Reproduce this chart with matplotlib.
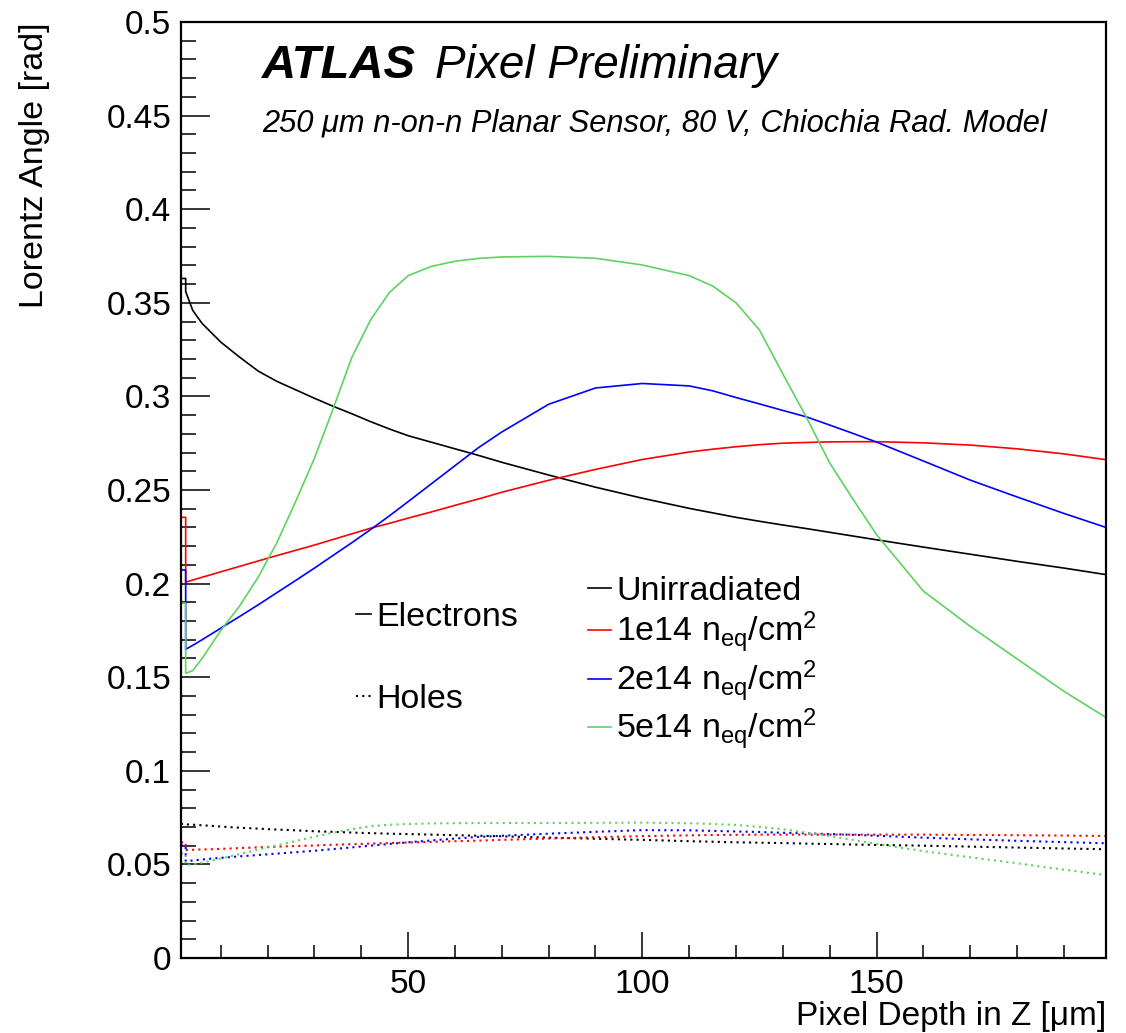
import numpy as np
import matplotlib.pyplot as plt
from matplotlib.lines import Line2D
from matplotlib.ticker import MultipleLocator, FuncFormatter

plt.rcParams['font.family'] = ['Liberation Sans', 'DejaVu Sans']
plt.rcParams['mathtext.fontset'] = 'custom'
plt.rcParams['mathtext.rm'] = 'Liberation Sans'
plt.rcParams['mathtext.it'] = 'Liberation Sans:italic'
plt.rcParams['mathtext.bf'] = 'Liberation Sans:bold'

# depth grid (um)
depth = [2.5, 4, 6, 8, 10, 14, 18, 22, 26, 30, 34, 38, 42, 46, 50, 55, 60, 65, 70,
         80, 90, 100, 110, 115, 120, 125, 130, 135, 140, 145, 150, 160, 170, 180, 190, 199]

# first bin (1.5 - 2.5 um) of each histogram
first_e = [0.363, 0.2354, 0.2073, 0.1895]
first_h = [0.0716, 0.0618, 0.0601, 0.0559]

# electrons
e_unirr = [0.356, 0.346, 0.339, 0.334, 0.329, 0.321, 0.3135, 0.308, 0.3035, 0.299, 0.2947,
           0.2907, 0.2865, 0.2826, 0.279, 0.2755, 0.272, 0.2685, 0.2648, 0.258, 0.2515,
           0.2456, 0.2402, 0.2378, 0.2354, 0.2333, 0.2313, 0.2294, 0.2274, 0.2254, 0.2234,
           0.2195, 0.2157, 0.2119, 0.2083, 0.2048]
e_1e14 = [0.2008, 0.2019, 0.2034, 0.2048, 0.2063, 0.2092, 0.2121, 0.215, 0.2178, 0.2206,
          0.2236, 0.2266, 0.2296, 0.2322, 0.235, 0.2383, 0.2418, 0.2452, 0.2488, 0.2552,
          0.261, 0.2663, 0.2703, 0.2718, 0.2731, 0.2742, 0.275, 0.2754, 0.2757, 0.2758,
          0.2758, 0.2752, 0.274, 0.272, 0.2693, 0.2662]
e_2e14 = [0.1649, 0.167, 0.17, 0.1731, 0.1762, 0.1824, 0.1887, 0.1952, 0.2017, 0.2083,
          0.2151, 0.2219, 0.2289, 0.2362, 0.2438, 0.2534, 0.263, 0.2726, 0.281, 0.2958,
          0.3045, 0.3069, 0.3056, 0.303, 0.2994, 0.296, 0.2925, 0.2891, 0.2847, 0.2802,
          0.2756, 0.2655, 0.2553, 0.2463, 0.2375, 0.23]
e_5e14 = [0.1521, 0.1535, 0.16, 0.1675, 0.175, 0.188, 0.2035, 0.222, 0.244, 0.267, 0.2935,
          0.321, 0.341, 0.3555, 0.3645, 0.3695, 0.3722, 0.3737, 0.3745, 0.3748, 0.3738,
          0.3702, 0.3645, 0.359, 0.35, 0.3355, 0.312, 0.289, 0.2645, 0.245, 0.2262, 0.196,
          0.1772, 0.1598, 0.1425, 0.1285]

# holes
h_unirr = [0.0714, 0.0712, 0.0709, 0.0706, 0.0702, 0.0696, 0.0691, 0.0686, 0.0682, 0.0677,
           0.0674, 0.067, 0.0667, 0.0664, 0.0662, 0.0659, 0.0656, 0.0653, 0.065, 0.0643,
           0.0637, 0.0631, 0.0624, 0.0621, 0.0618, 0.0616, 0.0614, 0.0611, 0.0609, 0.0606,
           0.0604, 0.06, 0.0595, 0.059, 0.0585, 0.0581]
h_1e14 = [0.0577, 0.0578, 0.058, 0.0581, 0.0583, 0.0587, 0.0591, 0.0595, 0.0598, 0.0601,
          0.0605, 0.0608, 0.0611, 0.0614, 0.0617, 0.062, 0.0624, 0.0627, 0.0631, 0.0638,
          0.0645, 0.0651, 0.0655, 0.0657, 0.0658, 0.0659, 0.0659, 0.0659, 0.0659, 0.0659,
          0.0659, 0.0659, 0.0657, 0.0656, 0.0654, 0.0652]
h_2e14 = [0.0518, 0.0521, 0.0526, 0.0531, 0.0535, 0.0543, 0.055, 0.0558, 0.0565, 0.0573,
          0.0582, 0.0591, 0.06, 0.0609, 0.0618, 0.0628, 0.0638, 0.0647, 0.0653, 0.0664,
          0.0674, 0.0683, 0.0682, 0.0679, 0.0676, 0.0673, 0.0669, 0.0666, 0.0662, 0.0658,
          0.0653, 0.0643, 0.0634, 0.0626, 0.0619, 0.0613]
h_5e14 = [0.0497, 0.05, 0.0509, 0.052, 0.0531, 0.0555, 0.0579, 0.0602, 0.0625, 0.0648,
          0.067, 0.0688, 0.0704, 0.0712, 0.0716, 0.0719, 0.072, 0.0721, 0.0721, 0.0721,
          0.0722, 0.0723, 0.072, 0.0716, 0.0711, 0.07, 0.0688, 0.067, 0.0651, 0.0631,
          0.0609, 0.0571, 0.0538, 0.0506, 0.0472, 0.0443]

labels = ['Unirradiated', r'1e14 n$_{\rm eq}$/cm$^{2}$',
          r'2e14 n$_{\rm eq}$/cm$^{2}$', r'5e14 n$_{\rm eq}$/cm$^{2}$']
colors = ['black', '#ff0000', '#0000ff', '#5ed35e']

fig = plt.figure(figsize=(11.26, 10.33), dpi=100)
ax = fig.add_axes([181/1126, 75/1033, 925/1126, 936/1033])

first_edge = [1.5, 2.5]
electrons = [e_unirr, e_1e14, e_2e14, e_5e14]
holes = [h_unirr, h_1e14, h_2e14, h_5e14]
for i in range(4):
    ax.plot(first_edge + depth, [first_e[i]] * 2 + electrons[i], color=colors[i], lw=1.2)
    ax.plot(first_edge + depth, [first_h[i]] * 2 + holes[i], color=colors[i], lw=1.5,
            linestyle=(0, (1, 2.0)))

ax.set_xlim(1.5, 199)
ax.set_ylim(0, 0.5)

ax.xaxis.set_major_locator(MultipleLocator(50))
ax.xaxis.set_minor_locator(MultipleLocator(10))
ax.yaxis.set_major_locator(MultipleLocator(0.05))
ax.yaxis.set_minor_locator(MultipleLocator(0.01))
ax.yaxis.set_major_formatter(FuncFormatter(lambda v, p: '%g' % round(v, 3)))

ax.tick_params(axis='both', which='both', direction='in', top=False, right=False,
               labelsize=24, width=1.1)
ax.tick_params(axis='y', which='major', length=21, pad=7)
ax.tick_params(axis='y', which='minor', length=10.5)
ax.tick_params(axis='x', which='major', length=19, pad=8)
ax.tick_params(axis='x', which='minor', length=9.5)
for s in ax.spines.values():
    s.set_linewidth(1.6)

fig.text(35/1126, 1 - 22/1033, 'Lorentz Angle [rad]', rotation=90, ha='center',
         va='top', fontsize=24.5)
fig.text(1106/1126, 1 - 1032/1033, 'Pixel Depth in Z [μm]', ha='right', va='bottom',
         fontsize=24)

ax.text((262 - 181)/925, (958 - 78)/936, 'ATLAS', transform=ax.transAxes, fontsize=34,
        fontweight='bold', style='italic', va='baseline')
ax.text((435 - 181)/925, (958 - 78)/936, 'Pixel Preliminary', transform=ax.transAxes,
        fontsize=33, style='italic', va='baseline')
ax.text((262 - 181)/925, (958 - 131)/936,
        '250 μm n-on-n Planar Sensor, 80 V, Chiochia Rad. Model',
        transform=ax.transAxes, fontsize=22.2, style='italic', va='baseline')

# legends
h1 = [Line2D([], [], color='black', lw=1.2),
      Line2D([], [], color='black', lw=1.5, linestyle=(0, (1, 2.0)))]
leg1 = ax.legend(h1, ['Electrons', 'Holes'], loc='upper left',
                 bbox_to_anchor=(356/1126, 1 - 602/1033), bbox_transform=fig.transFigure,
                 frameon=False, fontsize=24.5, handlelength=0.45, handletextpad=0.15,
                 labelspacing=1.5, borderpad=0, borderaxespad=0)
ax.add_artist(leg1)
h2 = [Line2D([], [], color=c, lw=1.2) for c in colors]
ax.legend(h2, labels, loc='upper left',
          bbox_to_anchor=(588/1126, 1 - 576/1033), bbox_transform=fig.transFigure,
          frameon=False, fontsize=24.5, handlelength=0.68, handletextpad=0.15,
          labelspacing=0.1, borderpad=0, borderaxespad=0)

fig.savefig('out.png', dpi=100)
